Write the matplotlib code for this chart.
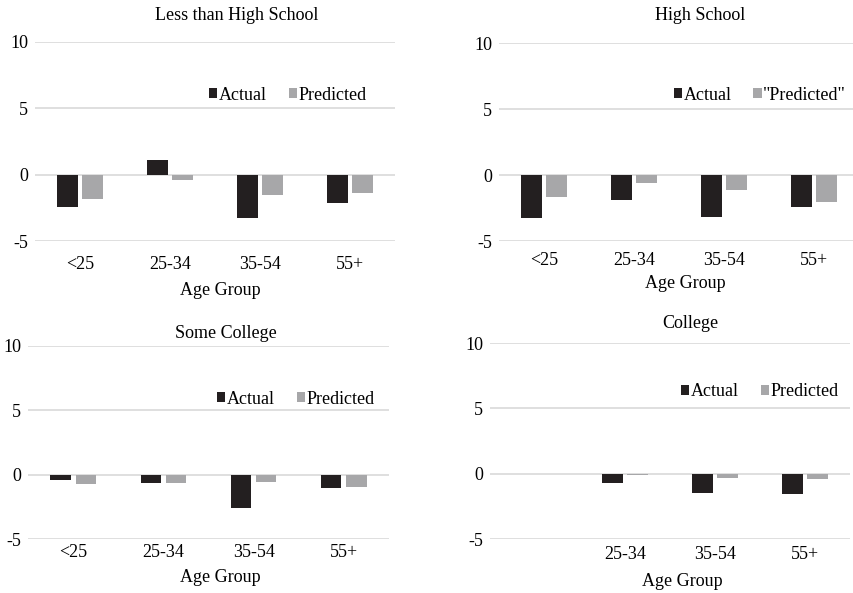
import matplotlib.pyplot as plt
import numpy as np

W, H = 854, 593

groups = ['<25', '25-34', '35-54', '55+']
college_groups = ['', '25-34', '35-54', '55+']

titles = ['Less than High School', 'High School', 'Some College', 'College']

lths_actual = [-2.43, 1.08, -3.30, -2.13]
lths_pred = [-1.83, -0.43, -1.50, -1.35]
hs_actual = [-3.25, -1.88, -3.20, -2.41]
hs_pred = [-1.70, -0.63, -1.17, -2.03]
sc_actual = [-0.39, -0.65, -2.60, -1.04]
sc_pred = [-0.73, -0.65, -0.54, -0.98]
col_actual = [np.nan, -0.69, -1.49, -1.59]
col_pred = [np.nan, -0.08, -0.36, -0.38]

pred_names = ['Predicted', '"Predicted"', 'Predicted', 'Predicted']

dark = '#231f20'
grey = '#a7a7a9'
gridc = '#d9d9d9'

plt.rcParams['font.family'] = ['Liberation Serif', 'DejaVu Serif']
plt.rcParams['font.size'] = 13
plt.rcParams['axes.unicode_minus'] = False

fig = plt.figure(figsize=(W / 100, H / 100), dpi=100)


def px(x0, y0, x1, y1):
    # pixel box (top-left origin) -> figure fraction rect
    return [x0 / W, 1 - y1 / H, (x1 - x0) / W, (y1 - y0) / H]


boxes = [px(35, 42, 395, 241), px(499, 43, 859, 241),
         px(28, 346, 389, 539), px(490, 343, 850, 539)]
title_pos = [(237, 15), (700, 16), (226, 333), (690, 323)]
xlabel_pos = [(220, 290), (685, 284), (220, 577), (682, 582)]
legend_pos = [(288, 95), (760, 95), (296, 399), (760, 392)]
xpads = [11, 8, 3.6, 5]

data = [(groups, lths_actual, lths_pred), (groups, hs_actual, hs_pred),
        (groups, sc_actual, sc_pred), (college_groups, col_actual, col_pred)]

w = 0.225
off = 0.14
for i, (labels, act, pred) in enumerate(data):
    ax = fig.add_axes(boxes[i])
    x = np.arange(len(labels))
    b1 = ax.bar(x - off, act, w, color=dark, label='Actual', zorder=3)
    b2 = ax.bar(x + off, pred, w, color=grey, label=pred_names[i], zorder=3)
    ax.set_xlim(-0.5, len(labels) - 0.5)
    ax.set_ylim(-5, 10)
    ax.set_yticks([-5, 0, 5, 10])
    ax.set_xticks(x)
    ax.set_xticklabels(labels)
    ax.tick_params(length=0)
    ax.tick_params(axis='x', pad=xpads[i])
    ax.tick_params(axis='y', pad=5)
    for s in ax.spines.values():
        s.set_visible(False)
    ax.yaxis.grid(True, color=gridc, lw=1.2, zorder=0)
    ax.set_axisbelow(True)
    ax.set_facecolor('none')
    tx, ty = title_pos[i]
    fig.text(tx / W, 1 - ty / H, titles[i], ha='center', va='center')
    lx, ly = xlabel_pos[i]
    fig.text(lx / W, 1 - ly / H, 'Age Group', ha='center', va='center')
    gx, gy = legend_pos[i]
    ax.legend(handles=[b1, b2], loc='center', bbox_to_anchor=(gx / W, 1 - gy / H),
              bbox_transform=fig.transFigure, ncol=2, frameon=False,
              handlelength=0.45, handleheight=0.45, handletextpad=0.1,
              columnspacing=1.2, borderpad=0)

fig.savefig('out.png', dpi=100)
